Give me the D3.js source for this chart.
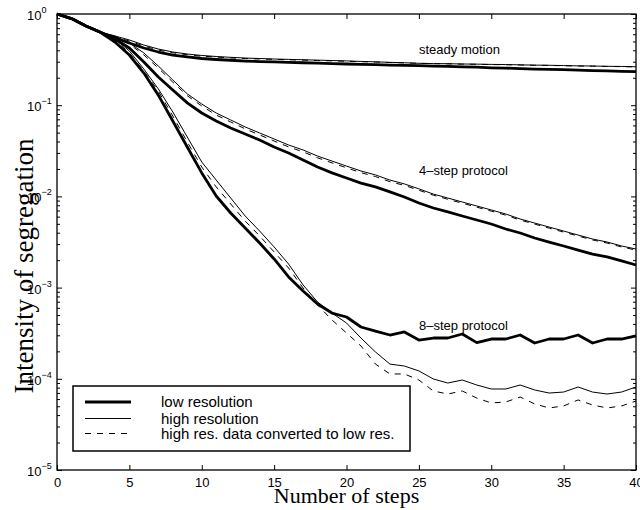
<!DOCTYPE html>
<html>
<head>
<meta charset="utf-8">
<script src="https://cdn.jsdelivr.net/npm/d3@7"></script>
<style>
  body { margin: 0; background: #fff; }
  .tick text { font-family: "Liberation Sans", Arial, sans-serif; }
</style>
</head>
<body>
<div id="chart"></div>
<script>
// number of steps
var steps = [0, 1, 2, 3, 4, 5, 6, 7, 8, 9, 10, 11, 12, 13, 14, 15, 16, 17, 18, 19, 20,
  21, 22, 23, 24, 25, 26, 27, 28, 29, 30, 31, 32, 33, 34, 35, 36, 37, 38, 39, 40];

// steady motion
var steadyLow = [1.0, 0.89, 0.74, 0.63, 0.546, 0.481, 0.424, 0.383, 0.355, 0.338, 0.325,
  0.317, 0.311, 0.305, 0.301, 0.298, 0.295, 0.292, 0.289, 0.286, 0.283,
  0.281, 0.278, 0.275, 0.273, 0.271, 0.268, 0.266, 0.263, 0.261, 0.257,
  0.255, 0.252, 0.249, 0.247, 0.245, 0.242, 0.240, 0.238, 0.235, 0.233];
var steadyHigh = [1.0, 0.89, 0.74, 0.63, 0.574, 0.519, 0.457, 0.413, 0.383, 0.364, 0.351,
  0.342, 0.335, 0.329, 0.325, 0.321, 0.318, 0.315, 0.312, 0.309, 0.306,
  0.302, 0.299, 0.295, 0.292, 0.288, 0.286, 0.285, 0.283, 0.282, 0.280,
  0.279, 0.277, 0.275, 0.274, 0.272, 0.270, 0.269, 0.267, 0.266, 0.264];
var steadyConv = [1.0, 0.89, 0.74, 0.63, 0.565, 0.505, 0.445, 0.402, 0.375, 0.357, 0.345,
  0.337, 0.330, 0.325, 0.321, 0.318, 0.315, 0.312, 0.309, 0.306, 0.303,
  0.300, 0.297, 0.294, 0.291, 0.288, 0.286, 0.284, 0.282, 0.281, 0.279,
  0.278, 0.276, 0.274, 0.273, 0.271, 0.269, 0.268, 0.266, 0.265, 0.263];

// 4-step protocol
var fourLow = [1.0, 0.89, 0.74, 0.63, 0.532, 0.424, 0.298, 0.204, 0.147, 0.106, 0.0821,
  0.0671, 0.0562, 0.0483, 0.0415, 0.0348, 0.0299, 0.0251, 0.0210, 0.0181, 0.0159,
  0.0140, 0.0127, 0.0112, 0.00984, 0.00847, 0.00746, 0.00675, 0.00610, 0.00551, 0.00498,
  0.00439, 0.00397, 0.00350, 0.00316, 0.00286, 0.00258, 0.00233, 0.00217, 0.00196, 0.00177];
var fourHigh = [1.0, 0.89, 0.74, 0.63, 0.574, 0.481, 0.374, 0.269, 0.189, 0.133, 0.103,
  0.0820, 0.0689, 0.0577, 0.0496, 0.0426, 0.0366, 0.0323, 0.0277, 0.0244, 0.0215,
  0.0190, 0.0172, 0.0151, 0.0137, 0.0121, 0.0106, 0.00960, 0.00868, 0.00785, 0.00710,
  0.00641, 0.00565, 0.00510, 0.00461, 0.00417, 0.00377, 0.00341, 0.00316, 0.00286, 0.00265];
var fourConv = [1.0, 0.89, 0.74, 0.63, 0.565, 0.468, 0.356, 0.255, 0.179, 0.127, 0.0980,
  0.0780, 0.0655, 0.0550, 0.0472, 0.0405, 0.0349, 0.0308, 0.0265, 0.0233, 0.0206,
  0.0182, 0.0165, 0.0145, 0.0132, 0.0117, 0.0103, 0.00930, 0.00842, 0.00762, 0.00690,
  0.00623, 0.00550, 0.00497, 0.00449, 0.00406, 0.00368, 0.00333, 0.00308, 0.00279, 0.00258];

// 8-step protocol
var eightLow = [1.0, 0.89, 0.74, 0.63, 0.493, 0.355, 0.225, 0.129, 0.0671, 0.0348, 0.0181,
  0.0101, 0.00658, 0.00451, 0.00308, 0.00206, 0.00131, 0.000918, 0.000661, 0.000526, 0.000476,
  0.000370, 0.000334, 0.000302, 0.000326, 0.000266, 0.000280, 0.000280, 0.000310, 0.000249, 0.000273,
  0.000273, 0.000302, 0.000247, 0.000273, 0.000273, 0.000302, 0.000247, 0.000273, 0.000273, 0.000295];
var eightHigh = [1.0, 0.89, 0.74, 0.63, 0.532, 0.393, 0.249, 0.151, 0.0842, 0.0448, 0.0238,
  0.0151, 0.00960, 0.00610, 0.00417, 0.00279, 0.00181, 0.00107, 0.000695, 0.000526, 0.000409,
  0.000280, 0.000197, 0.000145, 0.000138, 0.000122, 0.0000995, 0.0000899, 0.0000970, 0.0000855, 0.0000773,
  0.0000773, 0.0000855, 0.0000754, 0.0000698, 0.0000716, 0.0000813, 0.0000716, 0.0000681, 0.0000716, 0.0000813];
var eightConv = [1.0, 0.89, 0.74, 0.63, 0.519, 0.374, 0.237, 0.143, 0.0762, 0.0395, 0.0210,
  0.0127, 0.00826, 0.00537, 0.00368, 0.00246, 0.00164, 0.000991, 0.000645, 0.000441, 0.000318,
  0.000229, 0.000145, 0.000113, 0.000113, 0.0000970, 0.0000735, 0.0000681, 0.0000735, 0.0000615, 0.0000543,
  0.0000557, 0.0000631, 0.0000530, 0.0000479, 0.0000504, 0.0000586, 0.0000516, 0.0000479, 0.0000504, 0.0000571];

var xTicks = [0, 5, 10, 15, 20, 25, 30, 35, 40];
var yTicks = [1, 1e-1, 1e-2, 1e-3, 1e-4, 1e-5];
var yTickExp = ["0", "\u22121", "\u22122", "\u22123", "\u22124", "\u22125"];

var legendLabels = ["low resolution", "high resolution", "high res. data converted to low res."];
var curveLabels = ["steady motion", "4\u2013step protocol", "8\u2013step protocol"];

var svgWidth = 640;
var svgHeight = 510;

var margin = {
  top: 14,
  right: 4,
  bottom: 40,
  left: 57
};

var width = svgWidth - margin.left - margin.right;
var height = svgHeight - margin.top - margin.bottom;

var svg = d3.select("#chart")
  .append("svg")
  .attr("width", svgWidth)
  .attr("height", svgHeight);

var chartGroup = svg.append("g")
  .attr("transform", `translate(${margin.left}, ${margin.top})`);

var xScale = d3.scaleLinear()
  .domain([0, 40])
  .range([0, width]);

var yScale = d3.scaleLog()
  .domain([1e-5, 1])
  .range([height, 0]);

// minor ticks on the log axis
var yMinor = [];
yTicks.slice(1).forEach(function(dec) {
  [2, 3, 4, 5, 6, 7, 8, 9].forEach(function(m) { yMinor.push(dec * m); });
});

// frame
chartGroup.append("rect")
  .attr("width", width)
  .attr("height", height)
  .attr("fill", "none")
  .attr("stroke", "black")
  .attr("stroke-width", 1.3);

var bottomAxis = d3.axisBottom(xScale).tickValues(xTicks).tickSizeInner(-5).tickSizeOuter(0).tickPadding(8);
var topAxis = d3.axisTop(xScale).tickValues(xTicks).tickSizeInner(-5).tickSizeOuter(0).tickFormat("");
var leftAxis = d3.axisLeft(yScale).tickValues(yTicks).tickSizeInner(-5).tickSizeOuter(0).tickFormat("");
var rightAxis = d3.axisRight(yScale).tickValues(yTicks).tickSizeInner(-5).tickSizeOuter(0).tickFormat("");
var leftMinor = d3.axisLeft(yScale).tickValues(yMinor).tickSizeInner(-3).tickSizeOuter(0).tickFormat("");
var rightMinor = d3.axisRight(yScale).tickValues(yMinor).tickSizeInner(-3).tickSizeOuter(0).tickFormat("");

chartGroup.append("g")
  .attr("transform", `translate(0, ${height})`)
  .call(bottomAxis)
  .call(g => g.select(".domain").remove())
  .selectAll("text")
  .attr("font-size", 13)
  .attr("fill", "black");

chartGroup.append("g").call(topAxis).call(g => g.select(".domain").remove());

var leftG = chartGroup.append("g").call(leftAxis).call(g => g.select(".domain").remove());
chartGroup.append("g").call(leftMinor).call(g => g.select(".domain").remove());

chartGroup.append("g")
  .attr("transform", `translate(${width}, 0)`)
  .call(rightAxis).call(g => g.select(".domain").remove());
chartGroup.append("g")
  .attr("transform", `translate(${width}, 0)`)
  .call(rightMinor).call(g => g.select(".domain").remove());

// decade labels as 10 with a superscript
leftG.selectAll(".tick").each(function(d, i) {
  var t = d3.select(this).append("text")
    .attr("x", 27 - margin.left)
    .attr("y", 5.5)
    .attr("text-anchor", "start")
    .attr("font-size", 13)
    .attr("fill", "black");
  t.append("tspan").text("10");
  t.append("tspan")
    .attr("dy", -7)
    .attr("font-size", 9)
    .text(yTickExp[i]);
});

var line = d3.line()
  .x((d, i) => xScale(steps[i]))
  .y(d => yScale(d));

var convSeries = [steadyConv, fourConv, eightConv];
var highSeries = [steadyHigh, fourHigh, eightHigh];
var lowSeries = [steadyLow, fourLow, eightLow];

chartGroup.selectAll(".conv")
  .data(convSeries)
  .enter()
  .append("path")
  .attr("class", "conv")
  .attr("d", line)
  .attr("fill", "none")
  .attr("stroke", "black")
  .attr("stroke-width", 1)
  .attr("stroke-dasharray", "6,6");

chartGroup.selectAll(".high")
  .data(highSeries)
  .enter()
  .append("path")
  .attr("class", "high")
  .attr("d", line)
  .attr("fill", "none")
  .attr("stroke", "black")
  .attr("stroke-width", 1);

chartGroup.selectAll(".low")
  .data(lowSeries)
  .enter()
  .append("path")
  .attr("class", "low")
  .attr("d", line)
  .attr("fill", "none")
  .attr("stroke", "black")
  .attr("stroke-width", 2.8)
  .attr("stroke-linejoin", "round");

// curve labels
var labelY = [54, 175, 329.5];
svg.selectAll(".curveLabel")
  .data(curveLabels)
  .enter()
  .append("text")
  .attr("class", "curveLabel")
  .attr("x", 419)
  .attr("y", (d, i) => labelY[i])
  .attr("font-family", "'Liberation Sans', Arial, sans-serif")
  .attr("font-size", 13)
  .text(d => d);

// legend
var legend = svg.append("g");
legend.append("rect")
  .attr("x", 73)
  .attr("y", 386)
  .attr("width", 337)
  .attr("height", 65)
  .attr("fill", "white")
  .attr("stroke", "black")
  .attr("stroke-width", 1.5);

var legendY = [402, 418.5, 433.5];
var legendWidth = [2.8, 1, 1];
var legendDash = [null, null, "6,6"];

legendLabels.forEach(function(label, i) {
  legend.append("line")
    .attr("x1", 85)
    .attr("x2", 131)
    .attr("y1", legendY[i])
    .attr("y2", legendY[i])
    .attr("stroke", "black")
    .attr("stroke-width", legendWidth[i])
    .attr("stroke-dasharray", legendDash[i]);
  legend.append("text")
    .attr("x", 161)
    .attr("y", legendY[i])
    .attr("dy", "0.35em")
    .attr("font-family", "'Liberation Sans', Arial, sans-serif")
    .attr("font-size", 15)
    .text(label);
});

// axis titles
svg.append("text")
  .attr("x", margin.left + width / 2)
  .attr("y", 503)
  .attr("text-anchor", "middle")
  .attr("font-family", "'Liberation Serif', 'Times New Roman', serif")
  .attr("font-size", 22)
  .text("Number of steps");

svg.append("text")
  .attr("transform", "translate(33, 266) rotate(-90)")
  .attr("text-anchor", "middle")
  .attr("font-family", "'Liberation Serif', 'Times New Roman', serif")
  .attr("font-size", 27)
  .text("Intensity of segregation");
</script>
</body>
</html>
